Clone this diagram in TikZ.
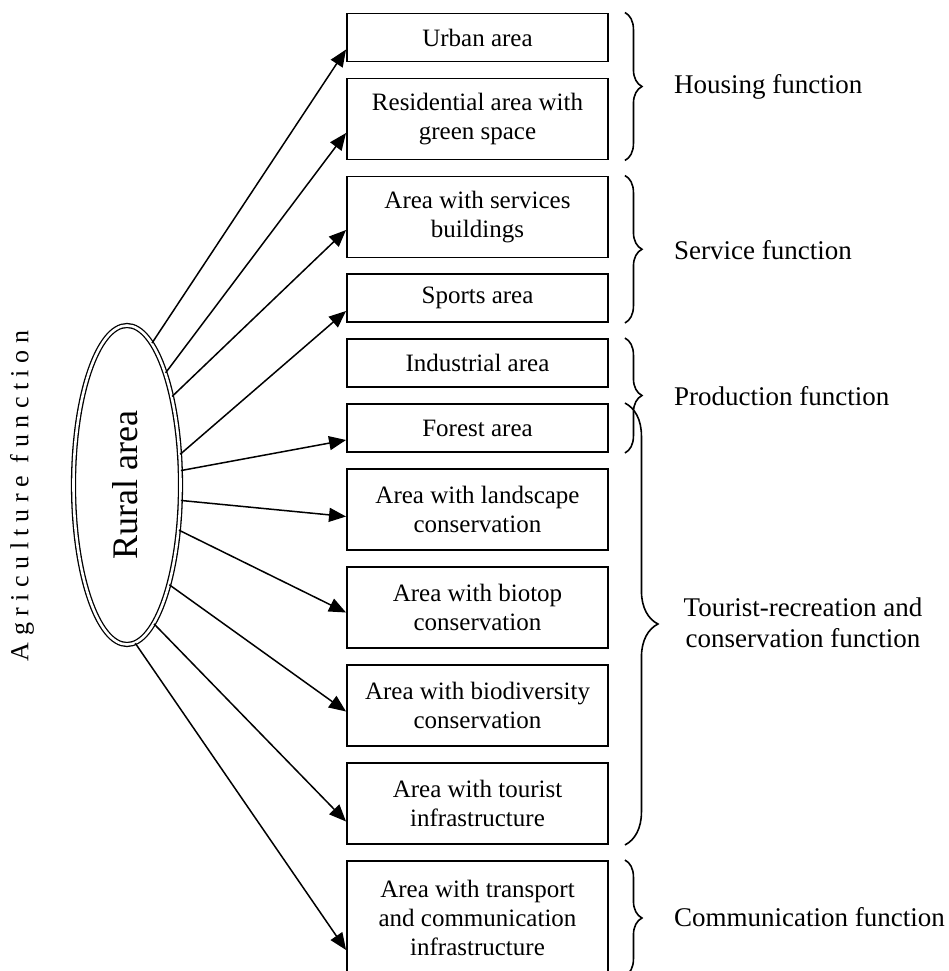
\documentclass[tikz,border=0pt]{standalone}
\usepackage{fontspec}
\setmainfont{Liberation Serif}
\newfontfamily\spacedfont[LetterSpace=25]{Liberation Serif}
\usetikzlibrary{arrows.meta,shapes.geometric,decorations.pathreplacing}
\tikzset{
  area/.style={draw=black,line width=1.9pt,minimum width=261pt,inner sep=0pt,
               align=center,font=\fontsize{25}{28.75}\selectfont},
  onebox/.style={area,minimum height=48pt},
  twobox/.style={area,minimum height=81pt},
  feed/.style={-{Triangle[length=17pt,width=14pt]},line width=1.5pt},
  brc/.style={decorate,decoration={brace,amplitude=17pt},line width=1.6pt},
  bigbrc/.style={decorate,decoration={brace,amplitude=33pt},line width=1.6pt},
  fnlabel/.style={anchor=west,inner sep=0pt,align=center,
                  font=\fontsize{27}{31}\selectfont},
}

\begin{document}
\begin{tikzpicture}[x=1pt,y=-1pt]
  \clip (0,0) rectangle (948,971);
  \node[ellipse,draw,double,double distance=2.6pt,line width=1.3pt,
        minimum width=107pt,minimum height=319pt,inner sep=0pt] (rural) at (127,485) {};
  \node[rotate=90,font=\fontsize{36}{40}\selectfont] (ruraltxt) at ([xshift=-2pt]rural.center) {Rural area};
  \node[rotate=90,font=\spacedfont\fontsize{26}{30}\selectfont] (agri) at (22,496) {Agriculture function};

  \node[onebox] (urban)  at (477.5,37.5)  {Urban area};
  \node[twobox] (resid)  at (477.5,119)   {Residential area with\\green space};
  \node[twobox] (serv)   at (477.5,217)   {Area with services\\buildings};
  \node[onebox] (sports) at (477.5,298)   {Sports area};
  \node[onebox] (indus)  at (477.5,363)   {Industrial area};
  \node[onebox] (forest) at (477.5,428)   {Forest area};
  \node[twobox] (landsc) at (477.5,509.5) {Area with landscape\\conservation};
  \node[twobox] (biotop) at (477.5,607.5) {Area with biotop\\conservation};
  \node[twobox] (biodiv) at (477.5,705.5) {Area with biodiversity\\conservation};
  \node[twobox] (touri)  at (477.5,803.5) {Area with tourist\\infrastructure};
  \node[area,minimum height=114pt] (transp) at (477.5,918)
    {Area with transport\\and communication\\infrastructure};

  \foreach \n/\ang/\d in {urban/80/12,resid/71/14,serv/63/13,sports/30/13,forest/15/12,
                          landsc/-16/7,biotop/-41/5,biodiv/-67/6,touri/-79/18,transp/-87/32}
    {\draw[feed] (rural.\ang) -- ([yshift=-\d pt]\n.west);}

  \draw[brc]    ([xshift=16pt]urban.north east)  -- ([xshift=16pt]resid.south east);
  \draw[brc]    ([xshift=16pt]serv.north east)   -- ([xshift=16pt]sports.south east);
  \draw[brc]    ([xshift=16pt]indus.north east)  -- ([xshift=16pt]forest.south east);
  \draw[bigbrc] ([xshift=16pt]forest.north east) -- ([xshift=16pt]touri.south east);
  \draw[brc]    ([xshift=16pt]transp.north east) -- ([xshift=16pt]transp.south east);

  \node[fnlabel] (housing)       at (674,87)  {Housing function};
  \node[fnlabel] (service)       at (674,250) {Service function};
  \node[fnlabel] (production)    at (674,396) {Production function};
  \node[fnlabel,anchor=center] (tourist) at (803,623) {Tourist-recreation and\\conservation function};
  \node[fnlabel] (communication) at (674,917) {Communication function};
\end{tikzpicture}
\end{document}
